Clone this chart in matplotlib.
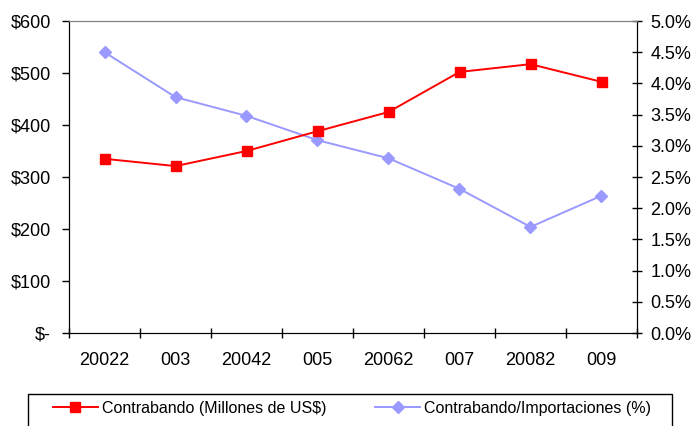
import matplotlib
matplotlib.use("Agg")
import matplotlib.pyplot as plt
from matplotlib.patches import Rectangle
from matplotlib.ticker import FixedLocator, MultipleLocator

plt.rcParams['font.family'] = ['Liberation Sans', 'DejaVu Sans']

years = ['20022', '003', '20042', '005', '20062', '007', '20082', '009']
contrabando = [335, 321, 350, 388, 425, 502, 517, 483]
ratio = [4.50, 3.78, 3.48, 3.09, 2.80, 2.31, 1.70, 2.20]
left_ticks = ['$-', '$100', '$200', '$300', '$400', '$500', '$600']

fs = 13
fig = plt.figure(figsize=(6.92, 4.26), dpi=100)
ax = fig.add_axes([69 / 692, 1 - 333 / 426, 568 / 692, 312 / 426])
ax2 = ax.twinx()

x = range(len(years))
l1, = ax.plot(x, contrabando, color='#ff0000', lw=1.4, marker='s', ms=6.5,
              label='Contrabando (Millones de US$)')
l2, = ax2.plot(x, ratio, color='#9999ff', lw=1.4, marker='D', ms=6,
               label='Contrabando/Importaciones (%)')
ax.set_zorder(ax2.get_zorder() + 1)
ax.patch.set_visible(False)

ax.set_xlim(-0.5, len(years) - 0.5)
ax.set_ylim(0, 600)
ax2.set_ylim(0, 5)

ax.set_yticks(range(0, 601, 100))
ax.set_yticklabels(left_ticks)
ax2.yaxis.set_major_locator(MultipleLocator(0.5))
ax2.set_yticklabels([f"{v:.1f}%" for v in ax2.get_yticks()])

ax.set_xticks(list(x))
ax.set_xticklabels(years)
ax.xaxis.set_minor_locator(FixedLocator([i - 0.5 for i in range(len(years) + 1)]))
ax.tick_params(axis='x', which='major', length=0, pad=14, labelsize=fs)
ax.tick_params(axis='x', which='minor', direction='inout', length=7, width=1)
ax.tick_params(axis='y', direction='out', length=5, width=1, labelsize=fs, pad=8)
ax2.tick_params(axis='y', direction='inout', length=7, width=1, labelsize=fs, pad=6)

for a in (ax, ax2):
    a.spines['top'].set_color('#808080')
    a.spines['left'].set_color('black')
    a.spines['right'].set_color('black')
    a.spines['bottom'].set_color('black')

# legend box runs off the bottom edge like in the source picture
fig.patches.append(Rectangle((28 / 692, -0.1), 644 / 692, 0.1 + 32 / 426,
                             transform=fig.transFigure, fill=False,
                             edgecolor='black', lw=1))
fig.legend(handles=[l1, l2], loc='upper left', ncol=2, mode='expand',
           bbox_to_anchor=(53 / 692, 1 - 401 / 426, 598 / 692, 0),
           borderaxespad=0, frameon=False, borderpad=0,
           handlelength=2.8, handletextpad=0.25, fontsize=11.5)

fig.savefig('out.png', dpi=100)
